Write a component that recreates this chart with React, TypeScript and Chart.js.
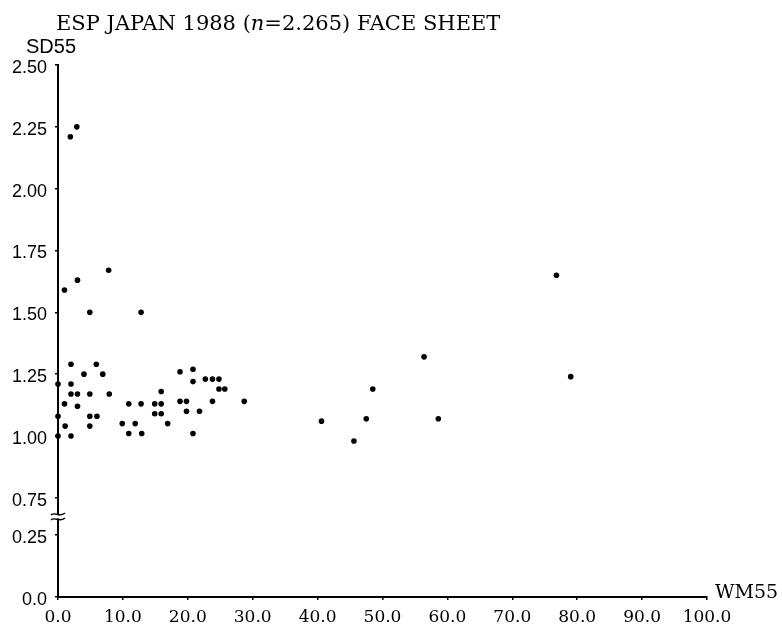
import React, { useEffect, useRef } from "react";
import { Chart, registerables } from "chart.js";

Chart.register(...registerables);

// ---- data ----
const wm55: number[] = [
  1.9, 2.9, 1.0, 3.0, 7.8, 4.9, 12.8,
  2.0, 5.9, 4.0, 6.9, 18.8, 20.8,
  0.0, 2.0, 20.8, 22.7, 23.8, 24.8,
  2.0, 3.0, 4.9, 7.9, 15.9, 24.8, 25.7,
  1.0, 3.0, 10.9, 12.8, 14.9, 15.9, 18.8, 19.8, 23.8, 28.7,
  0.0, 4.9, 6.0, 14.9, 15.9, 19.8, 21.8,
  1.1, 4.9, 9.9, 11.9, 16.9,
  0.0, 2.0, 10.9, 12.9, 20.8,
  40.6, 45.6, 47.5, 48.5, 56.4, 58.6, 76.8, 79.0,
];
const sd55: number[] = [
  2.21, 2.25, 1.59, 1.63, 1.67, 1.5, 1.5,
  1.29, 1.29, 1.25, 1.25, 1.26, 1.27,
  1.21, 1.21, 1.22, 1.23, 1.23, 1.23,
  1.17, 1.17, 1.17, 1.17, 1.18, 1.19, 1.19,
  1.13, 1.12, 1.13, 1.13, 1.13, 1.13, 1.14, 1.14, 1.14, 1.14,
  1.08, 1.08, 1.08, 1.09, 1.09, 1.1, 1.1,
  1.04, 1.04, 1.05, 1.05, 1.05,
  1.0, 1.0, 1.01, 1.01, 1.01,
  1.06, 0.98, 1.07, 1.19, 1.32, 1.07, 1.65, 1.24,
];

const yTickValues: number[] = [0, 0.25, 0.75, 1.0, 1.25, 1.5, 1.75, 2.0, 2.25, 2.5];
const yTickLabels: string[] = ["0.0", "0.25", "0.75", "1.00", "1.25", "1.50", "1.75", "2.00", "2.25", "2.50"];
const xTickLabels: string[] = ["0.0", "10.0", "20.0", "30.0", "40.0", "50.0", "60.0", "70.0", "80.0", "90.0", "100.0"];

const titleParts: string[] = ["ESP JAPAN 1988 (", "n", "=2.265) FACE SHEET"];
const yAxisTitle = "SD55";
const xAxisTitle = "WM55";

// broken y axis: the range 0.25..0.75 is compressed
const BREAK_SHIFT = 0.349;
const toDisplay = (y: number) => (y < 0.5 ? y : y - BREAK_SHIFT);

const SERIF = "'DejaVu Serif', serif";
const SANS = "'Liberation Sans', Arial, sans-serif";

const decorPlugin = {
  id: "decor",
  afterDraw(chart: any) {
    const ctx = chart.ctx as CanvasRenderingContext2D;
    const y = chart.scales.y;
    const area = chart.chartArea;
    ctx.save();
    ctx.fillStyle = "#000";
    ctx.textBaseline = "alphabetic";
    // title with italic n
    let x = 56;
    const base = 30;
    titleParts.forEach((t, i) => {
      ctx.font = (i === 1 ? "italic " : "") + "21px " + SERIF;
      ctx.fillText(t, x, base);
      x += ctx.measureText(t).width;
    });
    // y axis title
    ctx.font = "20px " + SANS;
    ctx.fillText(yAxisTitle, 26, 53);
    // x axis title
    ctx.font = "19px " + SERIF;
    ctx.fillText(xAxisTitle, area.right + 8, area.bottom + 1);
    // axis break mark
    const py = (y.getPixelForValue(toDisplay(0.25)) + y.getPixelForValue(toDisplay(0.75))) / 2;
    const ax = area.left;
    ctx.fillStyle = "#fff";
    ctx.fillRect(ax - 3, py - 2, 6, 4);
    ctx.strokeStyle = "#000";
    ctx.lineWidth = 1.4;
    [py - 2.5, py + 2.5].forEach((yy) => {
      ctx.beginPath();
      ctx.moveTo(ax - 7, yy + 1);
      ctx.bezierCurveTo(ax - 3, yy - 3, ax + 1, yy + 4, ax + 7, yy - 1);
      ctx.stroke();
    });
    ctx.restore();
  },
};

export default function App() {
  const ref = useRef<HTMLCanvasElement | null>(null);
  useEffect(() => {
    if (!ref.current) return;
    const points = wm55.map((xv, i) => ({ x: xv, y: toDisplay(sd55[i]) }));
    const chart = new Chart(ref.current, {
      type: "scatter",
      data: {
        datasets: [
          {
            data: points,
            backgroundColor: "#000",
            borderColor: "#000",
            borderWidth: 0,
            pointRadius: 2.8,
            pointHoverRadius: 2.8,
            clip: false as any,
          },
        ],
      },
      options: {
        animation: false,
        responsive: true,
        maintainAspectRatio: false,
        layout: { padding: { left: 0, top: 65, right: 75, bottom: 0 } },
        plugins: { legend: { display: false }, tooltip: { enabled: false }, title: { display: false } },
        scales: {
          x: {
            type: "linear",
            min: 0,
            max: 100,
            afterFit: (s: any) => {
              s.height = 33;
            },
            afterBuildTicks: (s: any) => {
              s.ticks = xTickLabels.map((_, i) => ({ value: i * 10 }));
            },
            ticks: {
              color: "#000",
              font: { family: SERIF, size: 17 },
              padding: 7,
              maxRotation: 0,
              autoSkip: false,
              callback: (_v: any, i: number) => xTickLabels[i],
            },
            grid: { display: true, drawOnChartArea: false, drawTicks: true, tickLength: 3, color: "#000", lineWidth: 1.5 },
            border: { display: true, color: "#000", width: 2 },
          },
          y: {
            type: "linear",
            min: 0,
            max: toDisplay(2.5),
            afterFit: (s: any) => {
              s.width = 58;
            },
            afterBuildTicks: (s: any) => {
              s.ticks = yTickValues.map((v) => ({ value: toDisplay(v) }));
            },
            ticks: {
              color: "#000",
              font: { family: SANS, size: 18 },
              padding: 8,
              labelOffset: 3,
              autoSkip: false,
              callback: (_v: any, i: number) => yTickLabels[i],
            },
            grid: { display: true, drawOnChartArea: false, drawTicks: true, tickLength: 3, color: "#000", lineWidth: 1.5 },
            border: { display: true, color: "#000", width: 2 },
          },
        },
      },
      plugins: [decorPlugin],
    });
    return () => chart.destroy();
  }, []);
  return (
    <div style={{ position: "fixed", left: 0, top: 0, width: 782, height: 630, background: "#fff" }}>
      <canvas ref={ref} />
    </div>
  );
}
